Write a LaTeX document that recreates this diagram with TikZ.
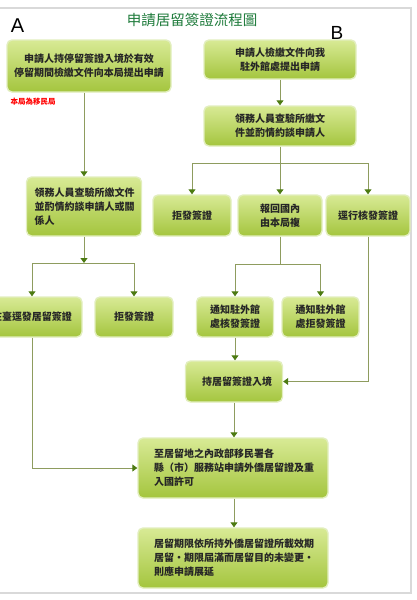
\documentclass[tikz,border=0pt]{standalone}
\usepackage{fontspec}
\usepackage[usenames,dvipsnames]{xcolor}
\usetikzlibrary{arrows.meta,calc}
\newfontfamily\tcfont{Noto Sans CJK TC}
\newfontfamily\labelfont{Liberation Sans}
\definecolor{boxtop}{HTML}{D8EA95}
\definecolor{boxbottom}{HTML}{A4C53E}
\definecolor{boxrim}{HTML}{E2EEBE}
\definecolor{flowline}{HTML}{8E9C5E}
\definecolor{flowtip}{HTML}{4C7A12}
\definecolor{titlegreen}{HTML}{1D7A3A}
\definecolor{framegray}{HTML}{D9D9D9}

\begin{document}
\begin{tikzpicture}[x=1pt,y=-1pt,
        greenbox/.style={rounded corners=5pt,draw=boxrim,line width=1.4pt,top color=boxtop,bottom color=boxbottom,
            inner sep=0pt,align=center,text=black!85,font=\tcfont\bfseries\fontsize{10}{14}\selectfont},
        flow/.style={draw=flowline,line width=0.9pt,-{Triangle[width=7pt,length=5pt,color=flowtip]}},
        flowplain/.style={draw=flowline,line width=0.9pt}]
            \useasboundingbox (0,0) rectangle (416,600);
            \clip (0,0) rectangle (416,600);
            \draw[framegray,line width=1.5pt] (0,8) -- (411,8) -- (411,593) -- (0,593);

            \node[font=\tcfont\fontsize{14.5}{16}\selectfont,text=titlegreen] (title) at (192,20) {申請居留簽證流程圖};
            \node[font=\labelfont\fontsize{20}{20}\selectfont] (labelA) at (17.5,26) {A};
            \node[font=\labelfont\fontsize{19}{19}\selectfont] (labelB) at (337,33) {B};

            % branch A
            \node[greenbox,minimum width=164pt,minimum height=52pt] (A1) at (89,66) {申請人持停留簽證入境於有效\\停留期間檢繳文件向本局提出申請};
            \node[font=\tcfont\bfseries\fontsize{7.5}{8}\selectfont,text=red] (note) at (33,102) {本局為移民局};
            \node[greenbox,align=left,text width=99pt,inner xsep=8pt,minimum height=59pt] (A2) at (84,206.5) {領務人員查驗所繳文件\\並酌情約談申請人或關\\係人};
            \node[greenbox,minimum width=100pt,minimum height=40pt] (A3a) at (32,317) {在臺逕發居留簽證};
            \node[greenbox,minimum width=78pt,minimum height=40pt] (A3b) at (134,317) {拒發簽證};

            % branch B
            \node[greenbox,minimum width=152pt,minimum height=39pt] (B1) at (280,59.5) {申請人檢繳文件向我\\駐外館處提出申請};
            \node[greenbox,minimum width=152pt,minimum height=40pt] (B2) at (280,126) {領務人員查驗所繳文\\件並酌情約談申請人};
            \node[greenbox,minimum width=78pt,minimum height=41pt] (B3a) at (192,215.5) {拒發簽證};
            \node[greenbox,minimum width=84pt,minimum height=41pt] (B3b) at (280,215.5) {報回國內\\由本局複};
            \node[greenbox,minimum width=84pt,minimum height=41pt] (B3c) at (368,215.5) {逕行核發簽證};
            \node[greenbox,minimum width=77pt,minimum height=40pt] (B4a) at (235,317) {通知駐外館\\處核發簽證};
            \node[greenbox,minimum width=77pt,minimum height=40pt] (B4b) at (320.5,317) {通知駐外館\\處拒發簽證};
            \node[greenbox,minimum width=97pt,minimum height=41pt] (B5) at (234,381.5) {\hspace{6pt}持居留簽證入境};

            % common steps
            \node[greenbox,align=left,text width=158pt,inner xsep=16pt,minimum height=60pt] (C1) at (233,468) {至居留地之內政部移民署各\\縣（市）服務站申請外僑居留證及重\\入國許可};
            \node[greenbox,align=left,text width=158pt,inner xsep=16pt,minimum height=60pt] (C2) at (233,558) {居留期限依所持外僑居留證所載效期\\居留・期限屆滿而居留目的未變更・\\則應申請展延};

            \coordinate (asplit) at (84,263);
            \coordinate (bsplit) at (280,163);
            \coordinate (csplit) at (280,264);

            \draw[flow] (A1.south -| A2.north) -- (A2.north);
            \draw[flow] (A2.south) -- (asplit);
            \draw[flow] (asplit) -| (A3a.north);
            \draw[flow] (asplit) -| (A3b.north);
            \draw[flow] (A3a.south) |- (C1.west);

            \draw[flow] (B1.south) -- (B2.north);
            \draw[flowplain] (B2.south) -- (bsplit);
            \draw[flow] (bsplit) -| (B3a.north);
            \draw[flow] (bsplit) -- (B3b.north);
            \draw[flow] (bsplit) -| (B3c.north);
            \draw[flowplain] (B3b.south) -- (csplit);
            \draw[flow] (csplit) -| (B4a.north);
            \draw[flow] (csplit) -| (B4b.north);
            \draw[flow] (B4a.south) -- (B4a.south |- B5.north);
            \draw[flow] (B3c.south) |- (B5.east);
            \draw[flow] (B5.south) -- (B5.south |- C1.north);
            \draw[flow] (B5.south |- C1.south) -- (B5.south |- C2.north);
        \end{tikzpicture}
\end{document}
